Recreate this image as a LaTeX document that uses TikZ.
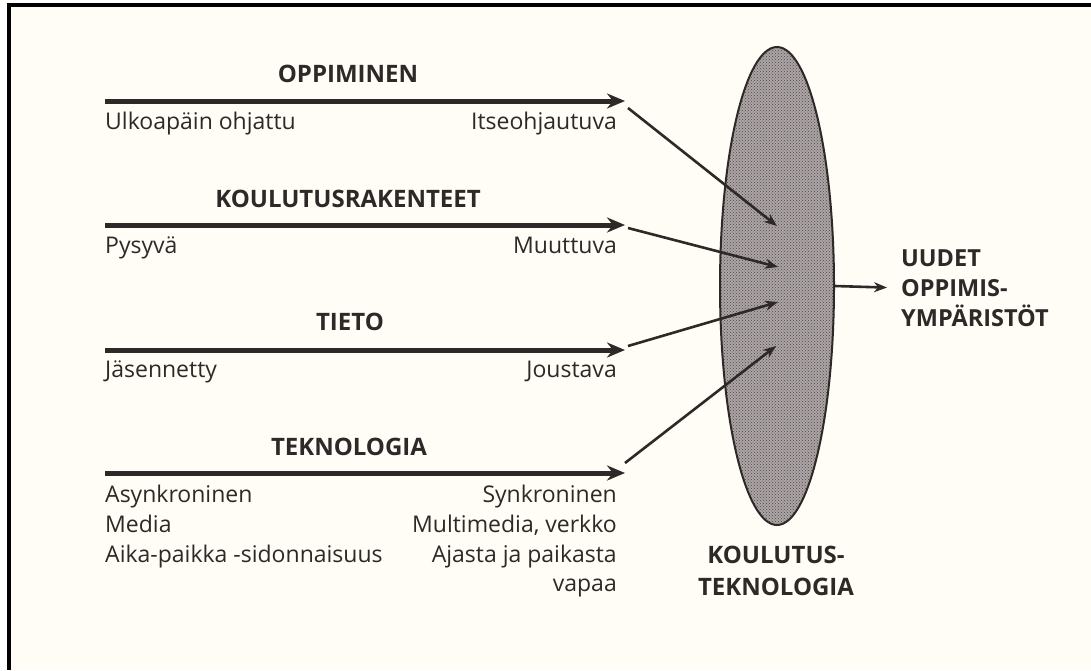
\documentclass[tikz,border=0pt]{standalone}
\usepackage{fontspec}
\setmainfont{Open Sans}
\usetikzlibrary{arrows.meta,shapes.geometric,patterns}
\definecolor{bg}{HTML}{FFFDF5}
\definecolor{ink}{HTML}{2E2929}
\definecolor{fillg}{HTML}{ADA5A5}
\begin{document}
\begin{tikzpicture}[x=1pt,y=-1pt,
  lbl/.style={font=\fontsize{23}{27}\selectfont, text=ink, inner sep=0pt},
  ttl/.style={font=\bfseries\fontsize{24}{28}\selectfont, text=ink, inner sep=0pt},
  harrow/.style={draw=ink, line width=5pt, -{Stealth[length=18pt,width=15pt]}},
  darrow/.style={draw=ink, line width=2.6pt, -{Stealth[length=13pt,width=10pt]}}]
\useasboundingbox (0,0) rectangle (1091,670);
\fill[white] (0,0) rectangle (1091,670);
\fill[bg] (11,7) rectangle (1091,670);
\fill[black] (7,3) rectangle (1091,7);
\fill[black] (7,3) rectangle (11,670);

% ellipse
\node[ellipse, draw=ink, line width=2pt, preaction={fill=fillg},
      pattern=crosshatch dots, pattern color=ink!85,
      minimum width=114pt, minimum height=478pt, inner sep=0pt] (E) at (777,286) {};

% row 1
\node[ttl] (T1) at (348,74) {OPPIMINEN};
\coordinate (s1) at (105,101); \coordinate (t1) at (625,101);
\draw[harrow] (s1) -- (t1);
\node[lbl, anchor=mid west] (L1) at (105,127) {Ulkoapäin ohjattu};
\node[lbl, anchor=mid east] (R1) at (617,127) {Itseohjautuva};
\coordinate (d1) at (628,108); \coordinate (e1) at (777,226);
\draw[darrow] (d1) -- (e1);

% row 2
\node[ttl] (T2) at (348,199) {KOULUTUSRAKENTEET};
\coordinate (s2) at (105,225); \coordinate (t2) at (625,225);
\draw[harrow] (s2) -- (t2);
\node[lbl, anchor=mid west] (L2) at (105,251) {Pysyvä};
\node[lbl, anchor=mid east] (R2) at (617,251) {Muuttuva};
\coordinate (d2) at (628,228); \coordinate (e2) at (778,267);
\draw[darrow] (d2) -- (e2);

% row 3
\node[ttl] (T3) at (350,322) {TIETO};
\coordinate (s3) at (105,350); \coordinate (t3) at (625,350);
\draw[harrow] (s3) -- (t3);
\node[lbl, anchor=mid west] (L3) at (105,375) {Jäsennetty};
\node[lbl, anchor=mid east] (R3) at (617,375) {Joustava};
\coordinate (d3) at (628,346); \coordinate (e3) at (778,302);
\draw[darrow] (d3) -- (e3);

% row 4
\node[ttl] (T4) at (349,447) {TEKNOLOGIA};
\coordinate (s4) at (105,473); \coordinate (t4) at (625,473);
\draw[harrow] (s4) -- (t4);
\node[lbl, anchor=mid west] (L4a) at (105,500) {Asynkroninen};
\node[lbl, anchor=mid west] (L4b) at (105,530) {Media};
\node[lbl, anchor=mid west] (L4c) at (105,560) {Aika-paikka -sidonnaisuus};
\node[lbl, anchor=mid east] (R4a) at (617,500) {Synkroninen};
\node[lbl, anchor=mid east] (R4b) at (617,530) {Multimedia, verkko};
\node[lbl, anchor=mid east] (R4c) at (617,560) {Ajasta ja paikasta};
\node[lbl, anchor=mid east] (R4d) at (617,589) {vapaa};
\coordinate (d4) at (625,463); \coordinate (e4) at (776,346);
\draw[darrow] (d4) -- (e4);

% labels right and below
\node[ttl, align=left, anchor=west, font=\bfseries\fontsize{23.5}{30}\selectfont] (U) at (901,288) {UUDET\\OPPIMIS-\\YMPÄRISTÖT};
\draw[darrow, shorten >=14pt] (E.east) -- (U.west);
\node[ttl, align=center, font=\bfseries\fontsize{24}{32}\selectfont] (K) at (776,571) {KOULUTUS-\\TEKNOLOGIA};
\end{tikzpicture}
\end{document}
